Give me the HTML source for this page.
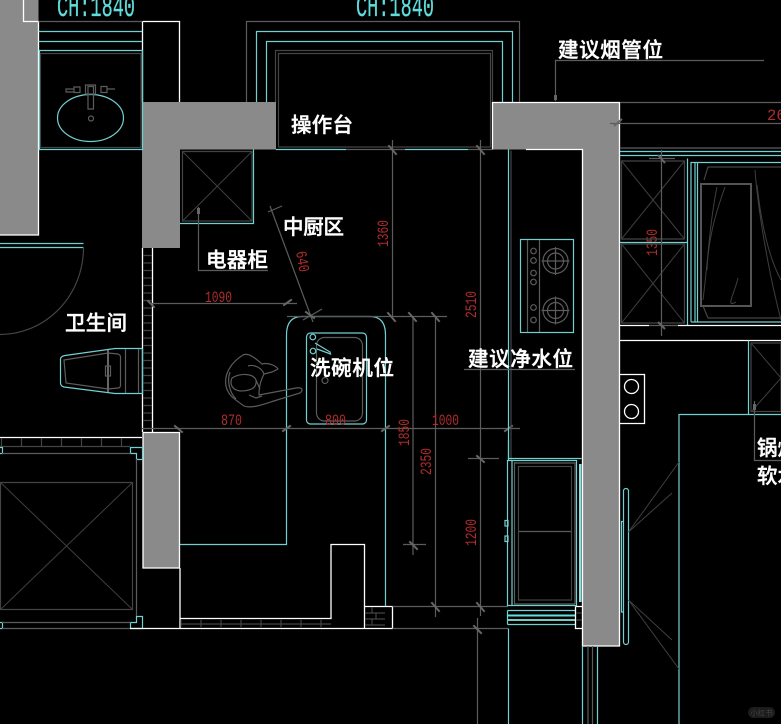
<!DOCTYPE html>
<html><head><meta charset="utf-8">
<style>
html,body{margin:0;padding:0;background:#000;width:781px;height:724px;overflow:hidden}
svg{display:block}
.c{stroke:#72d0d0;fill:none;stroke-width:1.2}
.g{stroke:#5c5c5c;fill:none;stroke-width:1.2}
.d{stroke:#444;fill:none;stroke-width:1.2}
.t{stroke:#3f3f3f;fill:none;stroke-width:1}
.w{stroke:#fff;fill:none;stroke-width:1.3}
.k{stroke:#666;fill:none;stroke-width:2}
.p{fill:#8a8a8a;stroke:none}
.l{font-family:"Liberation Sans","Noto Sans CJK SC",sans-serif;font-size:20.5px;font-weight:500;fill:#fff;stroke:#fff;stroke-width:.4}
.r{font-family:"Liberation Mono",monospace;font-size:15.500px;fill:#b02c2c}
.h{font-family:"Liberation Mono",monospace;font-size:31px;fill:#5fdcdc;stroke:#5fdcdc;stroke-width:.3}
</style></head><body>
<svg width="781" height="724" viewBox="0 0 781 724" xmlns="http://www.w3.org/2000/svg">
<rect width="781" height="724" fill="#000"/>

<!-- walls -->
<path class="p" d="M0 0H38.5V235H0Z"/>
<path class="p" d="M142 102H276V149.500H180V248H142Z"/>
<path class="p" d="M492.500 102.500H620V646H582.500V149.500H492.500Z"/>
<path class="p" d="M143 432.500H179.500V568H143Z"/>
<path class="w" d="M23.500 0V21.500H38.500V235H0"/>
<path class="w" d="M142.500 21.500H179.500V102M142.500 21.500V102"/>
<path class="w" d="M492.500 149.500V102.500H619.500V646H582.500V149.500H526"/>
<path class="w" d="M142.500 432.500H179.500V568H143V432.500"/>

<!-- top-left bath -->
<path class="g" d="M38.500 21.500H142"/>
<path class="c" d="M38.500 31.500H142M38.500 41.500H142M38.500 50.500H142.500V149.500H38.500M39.500 50.500V149"/>
<path class="d" d="M40.500 53.500H141V147.500H40.500Z"/>
<ellipse class="c" cx="90.500" cy="118" rx="33" ry="23.500"/>
<path class="g" d="M85.500 85H95.500V94H85.500ZM88 86.500H93.500V109H88ZM66 89H74V92H66ZM74 87H80V92.500H74ZM101 86.500H107V92.500H101ZM107 89H115"/>
<circle class="g" cx="91" cy="118.500" r="2.500"/>

<!-- top window -->
<path class="g" d="M246.500 102V21.500H519.500V102"/>
<path class="c" d="M256.500 102V31.500H512.500V102M266.500 102V41.500H502.500V102"/>
<path class="d" d="M275.500 102V50.500H492.500V102M278.500 147V53.500H490.500V147H278.500"/>
<path class="c" d="M276 149.500H346M405 149.500H468"/>
<path class="g" d="M346 149.500H405M468 149.500H492"/>
<text class="h" x="57" y="16" textLength="78" lengthAdjust="spacingAndGlyphs">CH:1840</text>
<text class="h" x="356" y="16" textLength="78" lengthAdjust="spacingAndGlyphs">CH:1840</text>

<!-- appliance cabinet -->
<path class="c" d="M253.500 149.500V223.500H180"/>
<path class="d" d="M182.500 151.500H252V221H182.500Z"/>
<path class="t" d="M182.500 151.500L252 221M252 151.500L182.500 221"/>
<path class="g" d="M198.500 207V270.500H268"/>
<rect x="197" y="208" width="3" height="6" fill="#666"/>

<!-- bathroom -->
<path class="c" d="M0 243.500H83.500M0 247.500H83.500"/>
<path class="d" d="M83.500 247A83.500 87 0 0 1 0 334.500"/>
<path class="w" d="M142.500 248V432M152.500 248V432"/>
<path class="d" d="M143 255.500H152M143 263H152M143 270.500H152M143 278H152M143 285.500H152M143 293H152M143 300.500H152M143 308H152M143 315.500H152M143 323H152M143 330.500H152M143 338H152M143 345.500H152M143 353H152M143 360.500H152M143 368H152M143 375.500H152M143 383H152M143 390.500H152M143 398H152M143 405.500H152M143 413H152M143 420.500H152"/>
<path class="c" d="M142 348.500H115L65 355.500Q60.500 356.500 60.500 359V383Q60.500 386 64 387L115 393.500H142.500V348.500"/>
<path class="g" d="M125.500 349V393M138.500 349V393M64 360 108 353 118 354Q120.500 355 120.500 357V385Q120.500 388 118 388L108 389 66 383Z"/>
<path class="k" d="M108 350V392"/>
<rect class="g" x="105.500" y="366" width="5" height="10"/>

<!-- lower left room -->
<path class="w" d="M0 437.500H142"/>
<path class="d" d="M0 446.500H130M1.500 438V446M21.500 438V446M41.500 438V446M61.500 438V446M81.500 438V446M101.500 438V446M121.500 438V446"/>
<path class="c" d="M130.500 447.500H142.500V459.500H136.500V453.500H130.500ZM0 447.500H2.500V453.500H0M142.500 616.500V628.500H130.500V622.500H136.500V616.500ZM0 622.500H2.500V628.500H0"/>
<path class="g" d="M2 453.500H130.500M2 622.500H130.500M2 628.500H130M136.500 459V616"/>
<path class="d" d="M0.500 482.500H132.500V609.500H0.500Z"/>
<path class="t" d="M0.500 482.500L132.500 609.500M132.500 482.500L0.500 609.500"/>
<path class="w" d="M130 628.500H392.500V606.500H365M180 568V628M180 618.500H331V544.500H364.500V628"/>
<path class="d" d="M181 624H331M181 620V627M201 620V627M221 620V627M241 620V627M261 620V627M281 620V627M301 620V627M321 620V627"/>
<path class="d" d="M365 613H385M365 619H385M365 625H385M372 607V613M376 613V619M372 619V625"/>
<path class="c" d="M180 544.500H286.500V335Q286.500 316.500 302 316.500H370Q385.500 316.500 385.500 335V606"/>

<!-- sink -->
<rect class="c" x="306.500" y="333" width="60" height="91" rx="4"/>
<rect class="g" x="316.500" y="337.500" width="46" height="83.500" rx="8"/>
<circle class="c" cx="312.800" cy="337" r="2.800"/>
<circle class="c" cx="313" cy="351" r="2.800"/>
<path class="c" d="M315 343 330 352 330.500 354 317 349"/>
<circle class="g" cx="325" cy="380.500" r="3"/>

<!-- person -->
<path class="g" d="M243 355C250 352 258 361 262 364C270 362 277 367 278 369L272 372L264 374C262 378 259 384 259 395L296 388C302 387 304 390 300 393L277 400C264 404 252 409 244 406C236 400 228 396 226 386C224 375 230 363 243 355Z"/>
<path class="g" d="M232 378C240 373 253 373 256 380C257 388 251 391 240 391C233 390 229 385 232 378ZM230 372C227 380 229 392 236 399M248 366C254 364 262 368 264 374M249 395L256 398 262 396M256 380 260 389"/>

<!-- dimensions -->
<path class="g" d="M152 303.500H297"/>
<path class="g" d="M142 428.500H520"/>
<path class="g" d="M287 316.500H447"/>
<path class="g" d="M392.500 140V316.500M413 316.500V555M435.500 316.500V617M480.500 140V616M477.500 618V724"/>
<path class="g" d="M392.500 606.500H508M392.500 628.500H508M468 458.500H499M403 544.500H426"/>
<path class="g" d="M270 206 313 322M303 320 322 309"/>
<path class="g" d="M268 212 282 206"/>
<path class="k" stroke-linecap="square" d="M389 146 396 154M477 146 484 154M148 301 154 307M284 305 291 300M388 313 395 321M409 313 416 321M432 313 439 321M175 426 182 432M283 431 290 426M382 431 389 426M505 431 512 426M477 456 484 462M410 542 417 549M432 603 439 611M477 603 484 611M474 626 481 633M306 312 314 318"/>

<!-- red dims -->
<g class="r">
<text x="205" y="302" textLength="27" lengthAdjust="spacingAndGlyphs">1090</text>
<text x="221" y="425" textLength="21" lengthAdjust="spacingAndGlyphs">870</text>
<text x="325" y="425" textLength="21" lengthAdjust="spacingAndGlyphs">800</text>
<text x="432" y="425" textLength="27" lengthAdjust="spacingAndGlyphs">1000</text>
<text transform="translate(388,247) rotate(-90)" textLength="27" lengthAdjust="spacingAndGlyphs">1360</text>
<text transform="translate(476,318) rotate(-90)" textLength="27" lengthAdjust="spacingAndGlyphs">2510</text>
<text transform="translate(409,446) rotate(-90)" textLength="27" lengthAdjust="spacingAndGlyphs">1850</text>
<text transform="translate(431,475) rotate(-90)" textLength="27" lengthAdjust="spacingAndGlyphs">2350</text>
<text transform="translate(476,546) rotate(-90)" textLength="27" lengthAdjust="spacingAndGlyphs">1200</text>
<text transform="translate(657,256) rotate(-90)" textLength="27" lengthAdjust="spacingAndGlyphs">1350</text>
<text transform="translate(296,252) rotate(80)" textLength="21" lengthAdjust="spacingAndGlyphs">640</text>
<text x="767" y="120">26</text>
</g>

<!-- right column: hood, stove -->
<path class="g" d="M555.500 101V60.500H764"/>
<rect x="554" y="95" width="3" height="5" fill="#666"/>
<path class="c" d="M508.500 149.500V460"/>
<path class="d" d="M511 150.500V460"/>
<rect class="c" x="520.500" y="239.500" width="53" height="93"/>
<path class="g" d="M527.500 240V332M539.500 240V332"/>
<g class="g">
<circle cx="555.500" cy="261" r="12.500"/><circle cx="555.500" cy="261" r="8"/>
<circle cx="555.500" cy="310.500" r="12.500"/><circle cx="555.500" cy="310.500" r="8"/>
<path d="M555.500 247V275M541.500 261H569.500M555.500 296.500V324.500M541.500 310.500H569.500"/>
<circle cx="533.500" cy="251" r="2.800"/><circle cx="533.500" cy="260.500" r="2.800"/>
<circle cx="533.500" cy="273" r="2.800"/><circle cx="533.500" cy="282" r="2.800"/>
<circle cx="533.500" cy="307.500" r="2.800"/><circle cx="533.500" cy="320" r="2.800"/>
</g>

<!-- far right top -->
<path class="g" d="M620 102.500H781M610 123.500H781M620 148H781"/>
<path class="k" d="M614 126 622 119"/>
<path class="c" d="M620 151.500H781M620 155.500H781"/>
<path class="d" d="M621.500 161H684.500V239H621.500ZM621.500 244H684.500V323H621.500Z"/>
<path class="t" d="M621.500 161L684.500 239M684.500 161L621.500 239M621.500 244L684.500 323M684.500 244L621.500 323"/>
<path class="c" d="M620 242.500H687.500M687.500 158.500V325"/>
<path class="c" d="M691 322V162.500H781M695 162.500V322M697.500 162.500V322M691 322H781"/>
<path class="d" d="M704 180 708 167H781M708 318H781M703 306 708 318"/>
<path style="stroke:#555;fill:none;stroke-width:2" d="M701 184H751V306H701Z"/>
<path class="t" d="M717 187C710 220 708 260 703 300M725 187C715 215 708 240 707 270M738 278C734 295 725 308 736 302M755 170C758 210 768 270 781 320M757 185C762 230 770 260 781 280"/>
<path class="w" d="M620 325.500H649M678 325.500H781M620 340.500H781"/>
<path class="g" d="M661.500 150V336M649 325.500H678M649 158.500H675"/>
<path class="k" d="M658 155 665 163M658 322 665 329"/>
<path class="c" d="M748.500 340.500V414.500M679 724V414.500H781"/>
<path class="d" d="M751 343H781V411.500H751Z"/>
<path class="t" d="M751 343 781 378M781 378 751 412"/>
<path class="g" d="M754.500 401V460.500H781"/>
<rect x="753" y="404" width="3" height="6" fill="#666"/>

<!-- hob switch -->
<path class="w" d="M620 374.500H644.500V423.500H620"/>
<circle class="w" cx="631.500" cy="386.500" r="7"/>
<circle class="w" cx="631.500" cy="411.500" r="7"/>

<!-- door -->
<rect class="c" x="623.500" y="488.500" width="5" height="156" rx="2.500"/>
<path class="c" d="M623.500 521.500H621.500V612H623.500"/>
<path class="t" d="M628.500 532 679 462M628.500 532 672 493M628.500 600 679 669M628.500 600 672 640"/>

<!-- tall unit -->
<path class="c" d="M508.500 440V458.500H581.500"/>
<path class="c" d="M507.500 460.500H512V605.500H507.500ZM512 460.500H576.500V605.500H512"/>
<path class="g" d="M514.500 462V604H575M515 463H575V604"/>
<rect class="d" x="518.500" y="466.500" width="53" height="133.500"/>
<path class="g" d="M519 531.500H571"/>
<rect x="579" y="464" width="2.500" height="138" fill="#8fdcdc"/>
<rect class="c" x="505" y="520.500" width="3" height="5.500"/>
<rect class="c" x="505" y="536" width="3" height="5.500"/>
<path class="c" d="M507.500 610.500H575.500M507.500 624.500H575.500M507.500 610.500V624.500"/>
<rect x="507" y="614.500" width="68.500" height="2" fill="#5fe0e0"/>
<rect x="507" y="619" width="68.500" height="2" fill="#78c8c0"/>
<path class="w" d="M575.500 606.500H582.500M575.500 606.500V628.500H582.500"/>
<path class="d" d="M576 613H582M576 620H582"/>
<path class="c" d="M508.500 628.500V724M582.500 646V724M597.500 646V724"/>
<path class="g" d="M588 646V724M592.500 646V724"/>

<!-- labels -->
<g class="l">
<text x="558" y="57" textLength="105">建议烟管位</text>
<text x="291" y="132" textLength="62">操作台</text>
<text x="283" y="234" textLength="61">中厨区</text>
<text x="206" y="267" textLength="62">电器柜</text>
<text x="65" y="330" textLength="62">卫生间</text>
<text x="310" y="375" textLength="84">洗碗机位</text>
<text x="468" y="366" textLength="105">建议净水位</text>
<text x="757" y="455">锅炉</text>
<text x="757" y="483">软水</text>
</g>
<path class="g" d="M464 369.500H575"/>

<!-- watermark -->
<rect x="748" y="707" width="27" height="11" rx="5.500" fill="#1c1c1c"/>
<text x="761.500" y="715.500" text-anchor="middle" font-family="'Liberation Sans','Noto Sans CJK SC',sans-serif" font-size="7.500" fill="#444">小红书</text>
</svg>
</body></html>
